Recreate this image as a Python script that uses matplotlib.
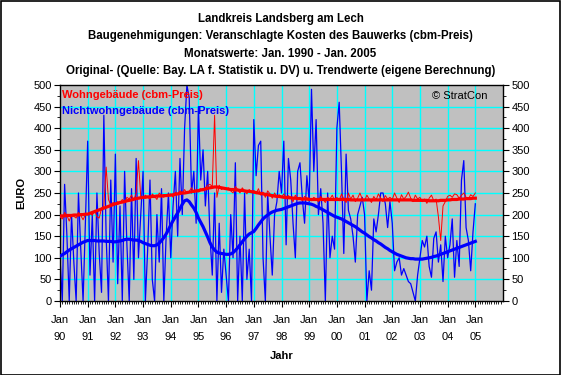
import numpy as np
import matplotlib
matplotlib.use("Agg")
import matplotlib.pyplot as plt
from matplotlib.patches import Rectangle

plt.rcParams['font.family'] = ['Liberation Sans', 'DejaVu Sans']

# Monatswerte Jan 1990 .. Jan 2005 (EURO je cbm)
wohn_raw = [
    195, 190, 205, 198, 185, 200, 196, 192, 205, 198, 188, 200,   # 1990
    200, 204, 198, 210, 195, 192, 215, 220, 310, 235, 222, 228,   # 1991
    224, 230, 226, 235, 228, 240, 236, 245, 232, 250, 325, 240,   # 1992
    238, 245, 240, 236, 248, 242, 235, 250, 244, 240, 246, 243,   # 1993
    248, 240, 252, 246, 255, 250, 258, 249, 254, 262, 251, 256,   # 1994
    258, 260, 255, 262, 268, 270, 265, 430, 240, 268, 258, 262,   # 1995
    258, 262, 255, 250, 265, 258, 250, 262, 255, 248, 258, 252,   # 1996
    256, 248, 260, 245, 252, 240, 255, 248, 238, 250, 242, 246,   # 1997
    240, 248, 236, 244, 238, 230, 245, 236, 240, 232, 242, 238,   # 1998
    238, 232, 240, 236, 230, 242, 235, 228, 240, 236, 245, 232,   # 1999
    240, 232, 248, 236, 228, 250, 236, 245, 230, 238, 250, 236,   # 2000
    232, 245, 236, 228, 242, 234, 248, 238, 230, 244, 236, 240,   # 2001
    235, 250, 238, 228, 246, 236, 242, 252, 238, 230, 245, 236,   # 2002
    240, 230, 236, 226, 238, 245, 232, 236, 195, 140, 220, 230,   # 2003
    242, 245, 240, 248, 246, 238, 245, 250, 240, 236, 246, 242,   # 2004
    250,                                                          # 2005
]

nichtwohn_raw = [
    100, 0, 270, 150, 0, 200, 90, 0, 250, 120, 0, 180,            # 1990
    370, 60, 200, 0, 250, 110, 20, 430, 150, 0, 280, 90,          # 1991
    340, 40, 220, 0, 300, 130, 0, 260, 50, 330, 100, 200,         # 1992
    300, 0, 120, 280, 50, 0, 200, 90, 260, 0, 150, 250,           # 1993
    100, 220, 300, 150, 330, 200, 400, 500, 470, 250, 300, 180,   # 1994
    450, 280, 350, 220, 300, 150, 60, 250, 0, 180, 20, 120,       # 1995
    60, 0, 200, 100, 320, 0, 150, 0, 250, 50, 120, 0,             # 1996
    420, 290, 360, 370, 100, 0, 250, 150, 60, 200, 230, 300,      # 1997
    250, 370, 130, 330, 280, 180, 100, 300, 320, 240, 180, 290,   # 1998
    230, 490, 300, 420, 200, 260, 180, 0, 250, 100, 150, 120,     # 1999
    400, 460, 300, 110, 340, 210, 190, 150, 90, 200, 220, 240,    # 2000
    200, 0, 70, 25, 190, 160, 200, 250, 250, 225, 170, 230,       # 2001
    180, 70, 90, 100, 60, 75, 60, 45, 40, 20, 0, 60,              # 2002
    100, 140, 125, 150, 80, 55, 145, 160, 90, 130, 45, 150,       # 2003
    100, 130, 190, 55, 140, 80, 280, 325, 170, 140, 70, 160,      # 2004
    225,                                                          # 2005
]

wohn_trend = [
    197, 197, 197, 198, 198, 198, 199, 199, 199, 200, 200, 201,
    201, 203, 205, 207, 209, 211, 213, 215, 217, 219, 221, 223,
    225, 226, 228, 229, 230, 232, 233, 234, 236, 237, 238, 239,
    240, 240, 241, 241, 242, 242, 243, 243, 243, 244, 244, 245,
    245, 246, 247, 248, 249, 250, 250, 251, 252, 253, 254, 255,
    255, 257, 258, 259, 261, 262, 263, 264, 264, 263, 262, 261,
    260, 259, 258, 258, 257, 257, 256, 256, 255, 254, 254, 253,
    252, 251, 250, 249, 248, 247, 246, 245, 244, 243, 242, 242,
    241, 240, 240, 239, 239, 238, 238, 237, 237, 236, 236, 236,
    235, 235, 235, 235, 235, 235, 235, 235, 235, 235, 235, 235,
    235, 235, 235, 235, 235, 235, 234, 234, 234, 234, 234, 234,
    234, 234, 234, 234, 234, 234, 234, 234, 234, 234, 234, 234,
    234, 234, 234, 234, 234, 234, 234, 234, 234, 233, 233, 233,
    233, 233, 233, 233, 232, 232, 232, 232, 232, 233, 233, 233,
    234, 234, 235, 235, 235, 236, 236, 236, 237, 237, 237, 238,
    238,
]

nichtwohn_trend = [
    104, 107, 110, 114, 118, 121, 124, 127, 130, 133, 136, 138,
    140, 140, 140, 140, 139, 139, 139, 139, 138, 138, 138, 137,
    137, 138, 139, 140, 142, 143, 143, 142, 141, 141, 140, 138,
    135, 133, 131, 129, 128, 128, 130, 134, 140, 147, 155, 165,
    176, 186, 195, 204, 214, 224, 232, 234, 230, 222, 215, 205,
    192, 182, 172, 160, 148, 135, 125, 118, 113, 111, 110, 109,
    108, 108, 109, 112, 117, 123, 130, 137, 144, 150, 155, 158,
    161, 168, 176, 183, 190, 195, 199, 203, 206, 208, 210, 211,
    212, 214, 216, 218, 220, 222, 224, 226, 227, 227, 227, 226,
    225, 224, 222, 219, 217, 214, 211, 208, 205, 202, 199, 196,
    194, 192, 190, 187, 184, 181, 178, 175, 172, 168, 164, 160,
    157, 153, 149, 146, 142, 139, 135, 132, 128, 124, 121, 117,
    114, 111, 108, 106, 104, 102, 100, 99, 98, 98, 97, 97,
    97, 97, 98, 99, 100, 101, 103, 104, 106, 108, 110, 112,
    114, 116, 118, 120, 122, 124, 126, 128, 130, 132, 134, 136,
    138,
]

years = ['90', '91', '92', '93', '94', '95', '96', '97', '98', '99',
         '00', '01', '02', '03', '04', '05']

titel = ["Landkreis Landsberg am Lech",
         "Baugenehmigungen: Veranschlagte Kosten des Bauwerks (cbm-Preis)",
         "Monatswerte: Jan. 1990 - Jan. 2005",
         "Original- (Quelle: Bay. LA f. Statistik u. DV) u. Trendwerte (eigene Berechnung)"]

months = np.arange(len(wohn_raw))

fig = plt.figure(figsize=(5.61, 3.75), dpi=100)
fig.patch.set_facecolor('white')
fig.patches.append(Rectangle((0.001, 0.001), 0.997, 0.996, transform=fig.transFigure,
                             fill=False, edgecolor='black', linewidth=1.2))

ax = fig.add_axes([60 / 561, 1 - 301 / 375, 443 / 561, 216 / 375])
ax.set_facecolor('#C0C0C0')

# gitter
for v in range(50, 500, 50):
    ax.axhline(v, color='#00FFFF', lw=1.0, zorder=1)
for i in range(12, 192, 12):
    ax.axvline(i, color='#00FFFF', lw=1.0, zorder=1)

ax.plot(months, nichtwohn_raw, color='#0000FF', lw=0.9, zorder=2)
ax.plot(months, wohn_raw, color='#FF0000', lw=0.7, zorder=3)
ax.plot(months, nichtwohn_trend, color='#0000FF', lw=2.3, zorder=4)
ax.plot(months, wohn_trend, color='#FF0000', lw=2.3, zorder=5)

ax.set_xlim(0, 192)
ax.set_ylim(0, 500)

ax.set_xticks(np.arange(0, 181, 12))
ax.set_xticklabels(['Jan\n' + y for y in years], fontsize=8, linespacing=1.85)
ax.set_xticks(np.arange(0, 192, 1), minor=True)
ax.tick_params(axis='x', which='major', length=4, direction='out', pad=6)
ax.tick_params(axis='x', which='minor', length=2, direction='out')

ax.set_yticks(np.arange(0, 501, 50))
ax.set_yticks(np.arange(0, 501, 25), minor=True)
ax.tick_params(axis='y', which='major', length=4, labelsize=8, right=True,
               labelright=True, pad=2)
ax.tick_params(axis='y', which='minor', length=2, right=True)

for s in ax.spines.values():
    s.set_color('black')
    s.set_linewidth(1.0)

ax.set_xlabel('Jahr', fontsize=8, fontweight='bold', labelpad=7)
ax.set_ylabel('EURO', fontsize=8, fontweight='bold', labelpad=5)

for k, t in enumerate(titel):
    fig.text(0.5, 1 - (19 + 17.4 * k) / 375, t, ha='center', va='center',
             fontsize=8.3, fontweight='bold')

ax.text(0.005, 0.955, 'Wohngebäude (cbm-Preis)', transform=ax.transAxes,
        color='#FF0000', fontsize=8, fontweight='bold', va='center')
ax.text(0.005, 0.88, 'Nichtwohngebäude (cbm-Preis)', transform=ax.transAxes,
        color='#0000FF', fontsize=8, fontweight='bold', va='center')
ax.text(0.84, 0.95, '© StratCon', transform=ax.transAxes, fontsize=8, va='center')

fig.savefig('out.png', dpi=100)
